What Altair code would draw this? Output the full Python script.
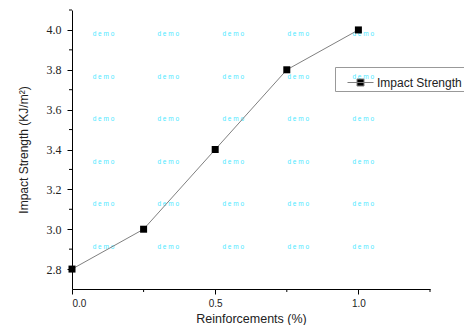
import altair as alt
import pandas as pd

# Data
reinforcement = [0.0, 0.25, 0.5, 0.75, 1.0]
impact = [2.8, 3.0, 3.4, 3.8, 4.0]
series_name = "Impact Strength"

x_major = [0.0, 0.5, 1.0]
x_minor = [0.25, 0.75, 1.25]
y_major = [2.8, 3.0, 3.2, 3.4, 3.6, 3.8, 4.0]
y_minor = [2.9, 3.1, 3.3, 3.5, 3.7, 3.9, 4.1]

# watermark grid ("demo")
wm_x = [0.110, 0.336, 0.563, 0.790, 1.017]
wm_y = [3.980, 3.764, 3.553, 3.337, 3.126, 2.910]

df = pd.DataFrame({"x": reinforcement, "y": impact, "series": [series_name] * len(impact)})
wm = pd.DataFrame([{"x": a, "y": b, "t": "d e m o"} for a in wm_x for b in wm_y])
xm = pd.DataFrame({"x": x_minor})
ym = pd.DataFrame({"y": y_minor})

W, H = 358, 279
xs = alt.Scale(domain=[0, 1.25], nice=False, zero=False)
ys = alt.Scale(domain=[2.7, 4.1], nice=False, zero=False)

x_axis = alt.Axis(values=x_major, format=".1f", tickSize=5, labelFont="Liberation Sans",
                  labelFontSize=10, labelPadding=4, labelColor="#222", grid=False,
                  title="Reinforcements (%)", titleFont="Liberation Sans", titleFontSize=12.5,
                  titleFontWeight="normal", titleColor="#222", titleBaseline="alphabetic",
                  titleY=33, titleX=W / 2)
y_axis = alt.Axis(values=y_major, format=".1f", tickSize=5, labelFont="Liberation Serif",
                  labelFontSize=12, labelPadding=6, labelColor="#222", grid=False,
                  title="Impact Strength (KJ/m²)", titleFont="Liberation Sans", titleFontSize=12,
                  titleFontWeight="normal", titleColor="#222", titleBaseline="alphabetic",
                  titleX=-45, titleY=H / 2, titleAngle=270)

X = alt.X("x:Q", scale=xs, axis=x_axis)
Y = alt.Y("y:Q", scale=ys, axis=y_axis)

wm_layer = alt.Chart(wm).mark_text(fontSize=6.5, color="#4de8ff", font="Liberation Sans").encode(
    x=X, y=Y, text="t:N")

line = alt.Chart(df).mark_line(color="#808080", strokeWidth=1).encode(x=X, y=Y)

pts = alt.Chart(df).mark_point(shape="square", filled=True, size=49, opacity=1).encode(
    x=X, y=Y,
    color=alt.Color("series:N", scale=alt.Scale(range=["black"]),
                    legend=alt.Legend(title=None, orient="none", legendX=263, legendY=57,
                                      symbolType="M-1,0H1M-0.27,-0.27H0.27V0.27H-0.27Z",
                                      symbolSize=676, symbolStrokeColor="#808080",
                                      symbolStrokeWidth=1, symbolFillColor="black",
                                      labelFont="Liberation Sans", labelFontSize=12,
                                      labelColor="#222", strokeColor="#999999", padding=2,
                                      symbolOffset=10, labelOffset=3)))

xminor = alt.Chart(xm).mark_rule(color="black", strokeWidth=1).encode(
    x=X, y=alt.value(H), y2=alt.value(H + 3))
yminor = alt.Chart(ym).mark_rule(color="black", strokeWidth=1).encode(
    y=Y, x=alt.value(0), x2=alt.value(-3))

chart = alt.layer(wm_layer, line, pts, xminor, yminor).properties(
    width=W, height=H, autosize="none",
    padding={"left": 64, "top": 2, "right": 34, "bottom": 36},
).configure_view(stroke=None).configure_axis(
    domainColor="black", tickColor="black", domainWidth=1, tickWidth=1)

chart.save("out.html", embed_options={"renderer": "svg", "actions": False})
